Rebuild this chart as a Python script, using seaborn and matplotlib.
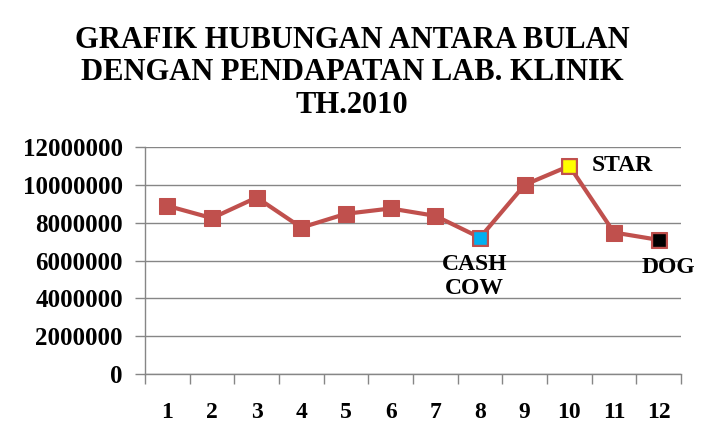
import matplotlib
matplotlib.use("Agg")
import matplotlib.pyplot as plt
import seaborn as sns
import pandas as pd
from matplotlib.ticker import FixedLocator

months = [1, 2, 3, 4, 5, 6, 7, 8, 9, 10, 11, 12]
income = [8890000, 8240000, 9330000, 7740000, 8470000, 8750000,
          8360000, 7210000, 10000000, 11000000, 7480000, 7090000]
special_months = [8, 10, 12]
special_labels = ["CASH\nCOW", "STAR", "DOG"]
special_colors = ["#00B0F0", "#FFFF00", "#000000"]
yticks = [0, 2000000, 4000000, 6000000, 8000000, 10000000, 12000000]
title = "GRAFIK HUBUNGAN ANTARA BULAN\nDENGAN PENDAPATAN LAB. KLINIK\nTH.2010"

sns.set_theme(style="white")
plt.rcParams['font.family'] = ['Liberation Serif', 'DejaVu Serif']
plt.rcParams['font.weight'] = 'bold'
plt.rcParams['text.color'] = 'black'
plt.rcParams['xtick.labelcolor'] = 'black'
plt.rcParams['ytick.labelcolor'] = 'black'

df = pd.DataFrame({"month": months, "income": income})
sp = df[df["month"].isin(special_months)].reset_index(drop=True)

fig = plt.figure(figsize=(7.04, 4.47), dpi=100)
ax = fig.add_axes([145/704, 1 - 374/447, (681-145)/704, (374-147)/447])

red = "#C0504D"
sns.lineplot(data=df, x="month", y="income", ax=ax, color=red, linewidth=3,
             marker="s", markersize=11, markeredgecolor=red, markerfacecolor=red)
for i in range(len(sp)):
    sns.scatterplot(x=[sp.loc[i, "month"]], y=[sp.loc[i, "income"]], ax=ax,
                    marker="s", s=110, color=special_colors[i],
                    edgecolor=red, linewidth=1, zorder=5)

ax.set_xlim(0.5, 12.5)
ax.set_ylim(0, 12000000)
ax.set_yticks(yticks)
ax.set_yticklabels([str(v) for v in yticks])
ax.set_xticks(months)
ax.set_xticklabels([str(m) for m in months])
ax.xaxis.set_minor_locator(FixedLocator([x + 0.5 for x in range(0, 13)]))
ax.tick_params(axis="x", which="major", length=0, pad=20, labelsize=17, labelcolor="black")
ax.tick_params(axis="x", which="minor", length=7, color="#868686", width=1, direction="out", bottom=True)
ax.tick_params(axis="y", length=7, color="#868686", width=1, direction="out", labelsize=18,
               pad=9, left=True, labelcolor="black")
for lab in ax.get_xticklabels() + ax.get_yticklabels():
    lab.set_fontweight("bold")

ax.grid(axis="y", color="#868686", linewidth=1)
ax.set_axisbelow(True)
for s in ["top", "right"]:
    ax.spines[s].set_visible(False)
for s in ["left", "bottom"]:
    ax.spines[s].set_color("#868686")
    ax.spines[s].set_linewidth(1)
ax.set_xlabel("")
ax.set_ylabel("")

# annotations
ax.annotate(special_labels[0], xy=(special_months[0], income[special_months[0]-1]),
            xytext=(-4, -12), textcoords="offset points", ha="center", va="top",
            fontsize=17, fontweight="bold", linespacing=1.2, color="black")
ax.annotate(special_labels[1], xy=(special_months[1], income[special_months[1]-1]),
            xytext=(16, 0), textcoords="offset points", ha="left", va="center",
            fontsize=17, fontweight="bold", color="black")
ax.annotate(special_labels[2], xy=(special_months[2], income[special_months[2]-1]),
            xytext=(7, -12), textcoords="offset points", ha="center", va="top",
            fontsize=17, fontweight="bold", color="black")

fig.text(0.5, 1 - 73/447, title, ha="center", va="center", fontsize=22,
         fontweight="bold", linespacing=1.15, color="black")

fig.savefig("out.png", dpi=100)
